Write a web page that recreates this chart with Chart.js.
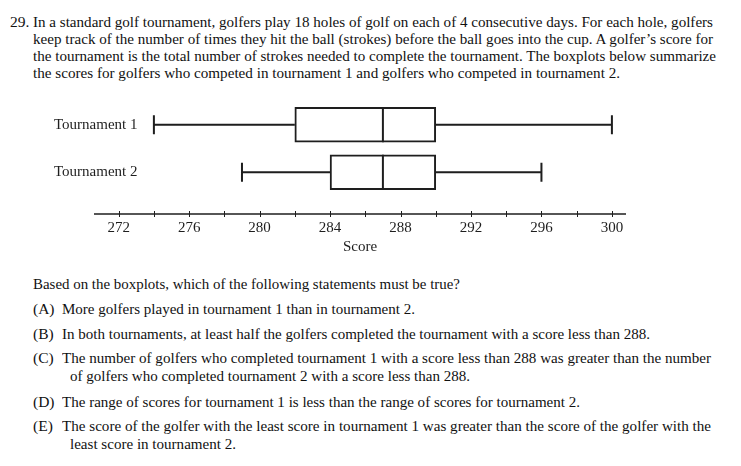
<!DOCTYPE html>
<html>
<head>
<meta charset="utf-8">
<script src="https://cdn.jsdelivr.net/npm/chart.js@4.4.0/dist/chart.umd.min.js"></script>
<style>
  body {
    margin: 0;
    width: 741px;
    height: 466px;
    overflow: hidden;
    position: relative;
    background: #fff;
    color: #111;
    font-family: "Liberation Serif", "Times New Roman", serif;
  }
  .ln {
    position: absolute;
    white-space: nowrap;
    font-size: 15.5px;
    line-height: 18px;
    transform-origin: 0 50%;
  }
  #wrap {
    position: absolute;
    left: 0;
    top: 95px;
    width: 741px;
    height: 165px;
  }
</style>
</head>
<body>

<div class="ln" style="left:10px;top:13px">29.</div>
<div class="ln fit" style="left:33px;top:13px" data-r="713">In a standard golf tournament, golfers play 18 holes of golf on each of 4 consecutive days. For each hole, golfers</div>
<div class="ln fit" style="left:33px;top:30px" data-r="713">keep track of the number of times they hit the ball (strokes) before the ball goes into the cup. A golfer’s score for</div>
<div class="ln fit" style="left:33px;top:47px" data-r="716">the tournament is the total number of strokes needed to complete the tournament. The boxplots below summarize</div>
<div class="ln fit" style="left:33px;top:64px" data-r="620">the scores for golfers who competed in tournament 1 and golfers who competed in tournament 2.</div>

<div id="wrap"><canvas id="chart"></canvas></div>

<div class="ln fit" style="left:33px;top:275px" data-r="460">Based on the boxplots, which of the following statements must be true?</div>
<div class="ln" style="left:33px;top:300px">(A)</div>
<div class="ln fit" style="left:62px;top:300px" data-r="415">More golfers played in tournament 1 than in tournament 2.</div>
<div class="ln" style="left:33px;top:325px">(B)</div>
<div class="ln fit" style="left:62px;top:325px" data-r="650">In both tournaments, at least half the golfers completed the tournament with a score less than 288.</div>
<div class="ln" style="left:33px;top:349px">(C)</div>
<div class="ln fit" style="left:62px;top:349px" data-r="711">The number of golfers who completed tournament 1 with a score less than 288 was greater than the number</div>
<div class="ln fit" style="left:70px;top:367px" data-r="470">of golfers who completed tournament 2 with a score less than 288.</div>
<div class="ln" style="left:33px;top:393px">(D)</div>
<div class="ln fit" style="left:62px;top:393px" data-r="580">The range of scores for tournament 1 is less than the range of scores for tournament 2.</div>
<div class="ln" style="left:33px;top:417px">(E)</div>
<div class="ln fit" style="left:62px;top:417px" data-r="711">The score of the golfer with the least score in tournament 1 was greater than the score of the golfer with the</div>
<div class="ln fit" style="left:70px;top:435px" data-r="236">least score in tournament 2.</div>

<script>
// boxplot data
const groups = ['Tournament 1', 'Tournament 2'];
const minScores = [274, 279];
const q1Scores = [282, 284];
const medianScores = [287, 287];
const q3Scores = [290, 290];
const maxScores = [300, 296];

// axis
const tickMarks = [272, 274, 276, 278, 280, 282, 284, 286, 288, 290, 292, 294, 296, 298, 300];
const tickLabels = [272, 276, 280, 284, 288, 292, 296, 300];
const axisMin = 270.6;
const axisMax = 300.8;

const ink = '#1e1e1e';
const serif = '"Liberation Serif", "Times New Roman", serif';

// stretch each text line to the width it has in the original
function fitLines() {
    document.querySelectorAll('.fit').forEach(el => {
        el.style.transform = '';
        const w = el.getBoundingClientRect().width;
        const target = +el.dataset.r - el.offsetLeft;
        el.style.transform = `scaleX(${target / w})`;
    });
}
fitLines();
document.fonts.ready.then(fitLines);

// whiskers, caps, medians and the number line
const boxplotParts = {
    id: 'boxplotParts',
    beforeDatasetsDraw(chart) {
        const { ctx, scales: { x, y } } = chart;
        ctx.save();
        ctx.strokeStyle = ink;
        ctx.lineWidth = 2;
        groups.forEach((g, i) => {
            const cy = y.getPixelForValue(i + 1);
            const lo = x.getPixelForValue(minScores[i]);
            const a = x.getPixelForValue(q1Scores[i]);
            const b = x.getPixelForValue(q3Scores[i]);
            const hi = x.getPixelForValue(maxScores[i]);
            ctx.beginPath();
            ctx.moveTo(lo, cy); ctx.lineTo(a, cy);
            ctx.moveTo(b, cy); ctx.lineTo(hi, cy);
            ctx.moveTo(lo, cy - 9.5); ctx.lineTo(lo, cy + 9.5);
            ctx.moveTo(hi, cy - 9.5); ctx.lineTo(hi, cy + 9.5);
            ctx.stroke();
        });
        ctx.restore();
    },
    afterDatasetsDraw(chart) {
        const { ctx, scales: { x, y } } = chart;
        ctx.save();
        ctx.strokeStyle = ink;
        ctx.lineWidth = 2;
        groups.forEach((g, i) => {
            const cy = y.getPixelForValue(i + 1);
            const m = x.getPixelForValue(medianScores[i]);
            ctx.beginPath();
            ctx.moveTo(m, cy - 17.5);
            ctx.lineTo(m, cy + 17.5);
            ctx.stroke();
        });

        const ay = x.top;
        ctx.lineWidth = 1.5;
        ctx.beginPath();
        ctx.moveTo(x.left, ay);
        ctx.lineTo(x.right, ay);
        ctx.stroke();
        ctx.lineWidth = 1;
        ctx.beginPath();
        tickMarks.forEach(v => {
            const px = Math.round(x.getPixelForValue(v)) + 0.5;
            ctx.moveTo(px, ay - 3);
            ctx.lineTo(px, ay + 3);
        });
        ctx.stroke();
        ctx.restore();
    }
};

const chart = new Chart(document.getElementById('chart'), {
    type: 'bar',
    data: {
        datasets: [{
            data: groups.map((g, i) => ({ x: [q1Scores[i], q3Scores[i]], y: i + 1 })),
            backgroundColor: '#fff',
            borderColor: ink,
            borderWidth: 2,
            borderSkipped: false,
            barThickness: 35
        }]
    },
    options: {
        indexAxis: 'y',
        responsive: true,
        maintainAspectRatio: false,
        animation: false,
        events: [],
        layout: { padding: { top: 6, right: 115, bottom: 0, left: 0 } },
        plugins: {
            legend: { display: false },
            tooltip: { enabled: false }
        },
        scales: {
            x: {
                type: 'linear',
                position: 'bottom',
                min: axisMin,
                max: axisMax,
                afterBuildTicks: scale => { scale.ticks = tickMarks.map(v => ({ value: v })); },
                afterFit: scale => { scale.height = 46; },
                grid: { display: false, drawTicks: false },
                border: { display: false },
                ticks: {
                    autoSkip: false,
                    maxRotation: 0,
                    padding: 5,
                    color: ink,
                    font: { family: serif, size: 15 },
                    callback: v => tickLabels.includes(v) ? String(v) : ''
                },
                title: {
                    display: true,
                    text: 'Score',
                    color: ink,
                    font: { family: serif, size: 15 },
                    padding: { top: 0, bottom: 4 }
                }
            },
            y: {
                type: 'linear',
                reverse: true,
                offset: false,
                min: 0.5,
                max: 2.88,
                afterBuildTicks: scale => { scale.ticks = groups.map((g, i) => ({ value: i + 1 })); },
                afterFit: scale => { scale.width = 94; },
                grid: { display: false, drawTicks: false },
                border: { display: false },
                ticks: {
                    mirror: true,
                    padding: -40,
                    color: ink,
                    font: { family: serif, size: 15 },
                    callback: v => groups[v - 1]
                }
            }
        }
    },
    plugins: [boxplotParts]
});
</script>
</body>
</html>
